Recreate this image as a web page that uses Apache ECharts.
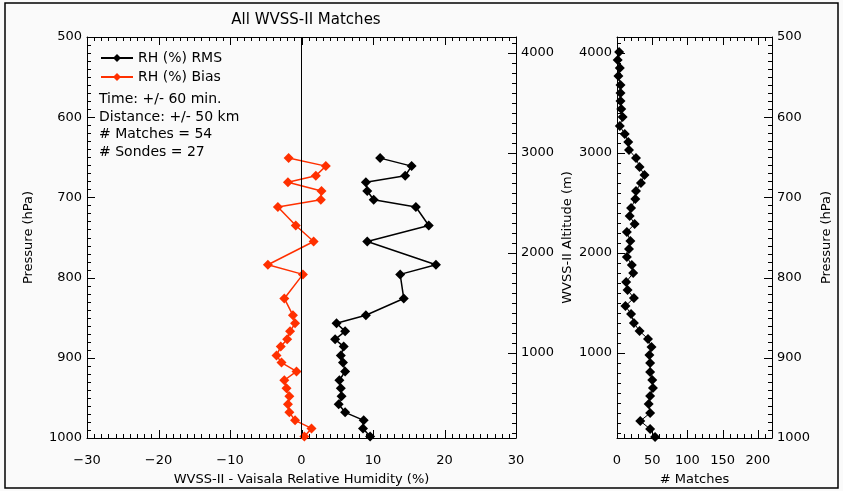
<!DOCTYPE html>
<html>
<head>
<meta charset="utf-8">
<script src="https://cdn.jsdelivr.net/npm/echarts@6/dist/echarts.min.js"></script>
<style>
html,body{margin:0;padding:0;background:#ffffff;}
#chart{width:843px;height:491px;}
</style>
</head>
<body>
<div id="chart"></div>
<script>
// ---- Left panel: RH statistics vs pressure ----
const pressureLevels = [651, 661, 673, 681, 692, 703, 712, 735, 755, 784, 796, 826, 847, 857, 867, 877, 886, 897, 906, 917, 928, 938, 948, 958, 968, 978, 988, 998];
const rhRms  = [11.0, 15.4, 14.5, 9.0, 9.2, 10.1, 16.0, 17.8, 9.2, 18.8, 13.8, 14.3, 9.0, 4.9, 6.1, 4.7, 5.9, 5.5, 5.8, 6.1, 5.3, 5.5, 5.6, 5.2, 6.1, 8.7, 8.6, 9.6];
const rhBias = [-1.8, 3.4, 2.0, -1.9, 2.8, 2.7, -3.3, -0.8, 1.7, -4.7, 0.2, -2.4, -1.2, -0.9, -1.6, -2.0, -2.9, -3.5, -2.8, -0.7, -2.4, -2.1, -1.7, -1.9, -1.7, -0.9, 1.4, 0.4];

// ---- Right panel: number of matches vs altitude ----
const altitudeBins = [160, 240, 320, 400, 490, 570, 650, 730, 810, 900, 980, 1060, 1140, 1220, 1300, 1390, 1470, 1550, 1630, 1710, 1800, 1880, 1960, 2040, 2120, 2210, 2290, 2370, 2450, 2540, 2620, 2700, 2780, 2860, 2950, 3030, 3110, 3190, 3270, 3360, 3440, 3520, 3600, 3680, 3770, 3850, 3930, 4010];
const matchCounts  = [54, 47, 33, 47, 45, 47, 51, 50, 47, 47, 46, 49, 44, 32, 24, 20, 12, 24, 15, 13, 23, 21, 14, 17, 19, 14, 25, 18, 20, 26, 27, 34, 39, 32, 27, 17, 16, 11, 4, 8, 6, 5, 5, 5, 2, 4, 1, 3];

// ---- Tick labels / text ----
const altitudeTickLabels = [1000, 2000, 3000, 4000];
const titleText = 'All WVSS-II Matches';
const seriesNames = ['RH (%) RMS', 'RH (%) Bias'];
const infoLines = ['Time: +/- 60 min.', 'Distance: +/- 50 km', '# Matches = 54', '# Sondes = 27'];
const xNameLeft = 'WVSS-II - Vaisala Relative Humidity (%)';
const xNameRight = '# Matches';
const pressureName = 'Pressure (hPa)';
const altitudeName = 'WVSS-II Altitude (m)';

const FONT = 'DejaVu Sans';
const ALT_MIN = 150, ALT_MAX = 4160;

function axisLine() { return { show: true, onZero: false, lineStyle: { color: '#000', width: 1 } }; }
function lbl(extra) { return Object.assign({ color: '#000', fontFamily: FONT, fontSize: 13 }, extra); }
function nameStyle() { return { color: '#000', fontFamily: FONT, fontSize: 13 }; }

function pressureAxis(gridIndex, position, name, nameGap) {
  return {
    type: 'value', gridIndex, position, inverse: true, min: 500, max: 1000, interval: 100,
    axisLine: axisLine(), splitLine: { show: false }, axisTick: { show: false },
    axisLabel: lbl({ show: true, margin: 5, formatter: v => String(v) }),
    name: name, nameLocation: 'middle', nameRotate: 90, nameGap: nameGap,
    nameTextStyle: nameStyle()
  };
}
function altitudeAxis(gridIndex, position, name, nameGap) {
  return {
    type: 'value', gridIndex, position, min: ALT_MIN, max: ALT_MAX,
    axisLine: axisLine(), splitLine: { show: false }, axisTick: { show: false },
    axisLabel: lbl({ show: true, margin: 5, customValues: altitudeTickLabels, formatter: v => String(v) }),
    name: name || '', nameLocation: 'middle', nameRotate: 90, nameGap: nameGap || 0,
    nameTextStyle: nameStyle()
  };
}
function xAxisDef(gridIndex, position, min, max, interval, showLabel, name) {
  return {
    type: 'value', gridIndex, position, min, max, interval,
    axisLine: axisLine(), splitLine: { show: false }, axisTick: { show: false },
    axisLabel: lbl({ show: showLabel, margin: 16,
      formatter: v => (v > 200 && max === 220) ? '' : (v < 0 ? '\u2212' + Math.abs(v) : String(v)) }),
    name: name || '', nameLocation: 'middle', nameGap: 35,
    nameTextStyle: nameStyle()
  };
}

const frameRect = { type: 'rect', silent: true, shape: { x: 5, y: 3, width: 833, height: 485 },
  style: { fill: 'none', stroke: '#000', lineWidth: 1.5 } };
const infoText = { type: 'text', left: 99, top: 91,
  style: { text: infoLines.join('\n'), fill: '#000', font: '14px "DejaVu Sans"', lineHeight: 17.5 } };

const chart = echarts.init(document.getElementById('chart'), null, { renderer: 'canvas' });
const option = {
  backgroundColor: '#fafafa',
  animation: false,
  title: {
    text: titleText, left: 301, top: 8, textAlign: 'center',
    textStyle: { color: '#000', fontFamily: FONT, fontSize: 15, fontWeight: 'normal' }
  },
  legend: {
    data: seriesNames, orient: 'vertical', left: 95, top: 46, itemGap: 5,
    itemWidth: 32, itemHeight: 10,
    textStyle: { color: '#000', fontFamily: FONT, fontSize: 14 }
  },
  grid: [
    { left: 87, top: 37, width: 429, height: 401, containLabel: false },
    { left: 617, top: 37, width: 155, height: 401, containLabel: false }
  ],
  xAxis: [
    xAxisDef(0, 'bottom', -30, 30, 10, true, xNameLeft),
    xAxisDef(0, 'top', -30, 30, 10, false, ''),
    xAxisDef(1, 'bottom', 0, 220, 50, true, xNameRight),
    xAxisDef(1, 'top', 0, 220, 50, false, '')
  ],
  yAxis: [
    pressureAxis(0, 'left', pressureName, 52),          // 0
    altitudeAxis(0, 'right', '', 0),                    // 1
    altitudeAxis(1, 'left', altitudeName, 43),          // 2
    pressureAxis(1, 'right', pressureName, 48)          // 3
  ],
  graphic: [frameRect, infoText],
  series: [
    {
      name: seriesNames[0], type: 'line', xAxisIndex: 0, yAxisIndex: 0,
      data: pressureLevels.map((p, i) => [rhRms[i], p]),
      symbol: 'diamond', symbolSize: 10, showSymbol: true,
      itemStyle: { color: '#000' }, lineStyle: { color: '#000', width: 1.5 }
    },
    {
      name: seriesNames[1], type: 'line', xAxisIndex: 0, yAxisIndex: 0,
      data: pressureLevels.map((p, i) => [rhBias[i], p]),
      symbol: 'diamond', symbolSize: 10, showSymbol: true,
      itemStyle: { color: '#ff3000' }, lineStyle: { color: '#ff3000', width: 1.5 },
      markLine: {
        silent: true, symbol: ['none', 'none'], label: { show: false },
        lineStyle: { color: '#000', width: 1, type: 'solid' },
        data: [{ xAxis: 0 }]
      }
    },
    {
      name: 'Matches', type: 'line', xAxisIndex: 2, yAxisIndex: 2,
      data: altitudeBins.map((a, i) => [matchCounts[i], a]),
      symbol: 'diamond', symbolSize: 10, showSymbol: true,
      itemStyle: { color: '#000' }, lineStyle: { color: '#000', width: 1 }
    }
  ]
};
chart.setOption(option);

// ---- Inward tick marks, positioned through the axes' own scales ----
function pix(kind, idx, v) {
  const finder = {}; finder[kind + 'AxisIndex'] = idx;
  return chart.convertToPixel(finder, v);
}
const tickLines = [];
function addLine(x1, y1, x2, y2) {
  tickLines.push({ type: 'line', silent: true,
    shape: { x1: x1, y1: y1, x2: x2, y2: y2 }, style: { stroke: '#000', lineWidth: 1 } });
}
function crisp(p) { return Math.round(p) + 0.5; }

// panel edges from the axes
const g0L = Math.round(pix('x', 0, -30)), g0R = Math.round(pix('x', 0, 30));
const g1L = Math.round(pix('x', 2, 0)), g1R = Math.round(pix('x', 2, 220));
const gT = Math.round(pix('y', 0, 500)), gB = Math.round(pix('y', 0, 1000));

// x ticks, left panel: every 1 %, major every 10 %
for (let v = -30; v <= 30; v += 1) {
  const len = v % 10 === 0 ? 8 : 4, x = crisp(pix('x', 0, v));
  addLine(x, gB, x, gB - len); addLine(x, gT, x, gT + len);
}
// x ticks, right panel: every 10, major every 50
for (let v = 0; v <= 220; v += 10) {
  const len = v % 50 === 0 ? 8 : 4, x = crisp(pix('x', 2, v));
  addLine(x, gB, x, gB - len); addLine(x, gT, x, gT + len);
}
// pressure ticks: left of left panel, right of right panel
for (let v = 500; v <= 1000; v += 10) {
  const len = v % 100 === 0 ? 8 : 4;
  const y0 = crisp(pix('y', 0, v)), y3 = crisp(pix('y', 3, v));
  addLine(g0L, y0, g0L + len, y0);
  addLine(g1R, y3, g1R - len, y3);
}
// altitude ticks: right of left panel, left of right panel
for (let v = 200; v <= 4100; v += 100) {
  const len = v % 1000 === 0 ? 8 : 4;
  const y1 = crisp(pix('y', 1, v)), y2 = crisp(pix('y', 2, v));
  addLine(g0R, y1, g0R - len, y1);
  addLine(g1L, y2, g1L + len, y2);
}
chart.setOption({ graphic: [frameRect, infoText, { type: 'group', silent: true, children: tickLines }] });
</script>
</body>
</html>
